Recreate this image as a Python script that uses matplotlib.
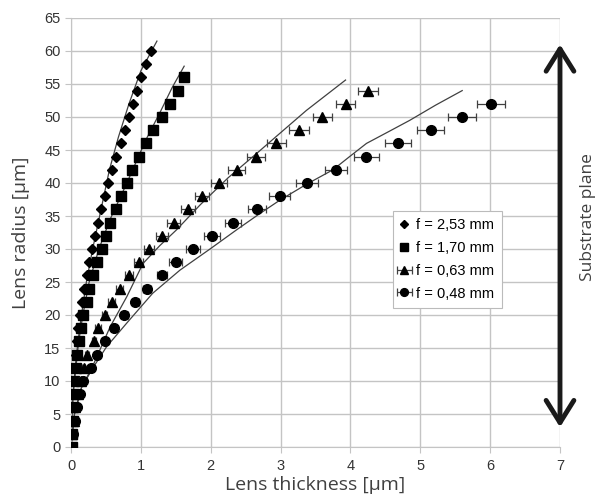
import numpy as np
import matplotlib.pyplot as plt

# measured points (radius every 2 um)
y_dia = list(range(0, 62, 2))
x_dia = [0.0, 0.01, 0.01, 0.02, 0.03, 0.04, 0.05, 0.07, 0.09, 0.10, 0.13, 0.16, 0.19, 0.23, 0.26,
         0.30, 0.34, 0.39, 0.43, 0.48, 0.53, 0.58, 0.64, 0.72, 0.77, 0.83, 0.89, 0.94, 1.00, 1.07, 1.14]

y_sq = list(range(0, 58, 2))
x_sq = [0.01, 0.02, 0.03, 0.03, 0.04, 0.05, 0.07, 0.09, 0.11, 0.14, 0.17, 0.23, 0.26, 0.31, 0.37,
        0.44, 0.50, 0.56, 0.64, 0.72, 0.80, 0.88, 0.97, 1.07, 1.18, 1.30, 1.42, 1.53, 1.62]

y_tri = list(range(2, 56, 2))
x_tri = [0.02, 0.04, 0.06, 0.10, 0.14, 0.18, 0.23, 0.33, 0.39, 0.48, 0.58, 0.70, 0.83, 0.97,
         1.12, 1.30, 1.47, 1.67, 1.88, 2.12, 2.37, 2.65, 2.94, 3.26, 3.60, 3.93, 4.25]
e_tri = [0.01, 0.01, 0.01, 0.02, 0.02, 0.02, 0.03, 0.03, 0.04, 0.04, 0.05, 0.05, 0.06, 0.065,
         0.07, 0.085, 0.09, 0.10, 0.10, 0.11, 0.12, 0.13, 0.14, 0.14, 0.14, 0.14, 0.14]

y_cir = list(range(2, 54, 2))
x_cir = [0.03, 0.06, 0.09, 0.13, 0.17, 0.28, 0.37, 0.49, 0.61, 0.76, 0.92, 1.09, 1.30, 1.50,
         1.75, 2.02, 2.32, 2.66, 2.99, 3.38, 3.79, 4.23, 4.68, 5.15, 5.60, 6.01]
e_cir = [0.01, 0.01, 0.01, 0.02, 0.02, 0.03, 0.03, 0.04, 0.04, 0.05, 0.05, 0.06, 0.07, 0.09,
         0.10, 0.11, 0.12, 0.13, 0.15, 0.16, 0.16, 0.18, 0.18, 0.19, 0.20, 0.20]

# fitted curves
fx_dia = [0, 0.01, 0.03, 0.06, 0.10, 0.15, 0.22, 0.31, 0.43, 0.55, 0.68, 0.83, 1.00, 1.23]
fy_dia = [0, 4, 8, 12, 16, 20, 25, 30, 36, 42, 47, 52, 57, 61.5]
fx_sq = [0, 0.01, 0.03, 0.07, 0.11, 0.17, 0.26, 0.40, 0.56, 0.80, 1.07, 1.27, 1.45, 1.62]
fy_sq = [0, 4, 8, 12, 16, 20, 25, 30, 34.5, 40, 46.5, 50.6, 54.5, 57.7]
fx_tri = [0, 0.05, 0.15, 0.30, 0.56, 0.80, 1.03, 1.27, 1.51, 1.85, 2.25, 2.66, 3.02, 3.37, 3.65, 3.93]
fy_tri = [0, 5, 9, 12, 18.2, 22.8, 27.8, 30.5, 32.9, 36.7, 40.8, 44.5, 47.8, 51, 53.3, 55.6]
fx_cir = [0, 0.05, 0.15, 0.32, 0.51, 0.80, 1.17, 1.56, 1.99, 2.37, 2.68, 2.99, 3.37, 3.75,
          4.0, 4.23, 4.55, 4.85, 5.22, 5.60]
fy_cir = [0, 5, 9, 12.1, 15.2, 18.8, 23.3, 26.8, 30.0, 32.9, 35.2, 37.4, 39.8, 42, 44.1,
          46, 47.8, 49.5, 51.8, 54]

labels = ["f = 2,53 mm", "f = 1,70 mm", "f = 0,63 mm", "f = 0,48 mm"]

fig = plt.figure(figsize=(6.09, 4.99), dpi=100)
ax = fig.add_axes([71/609, 52/499, 489/609, 429/499])

lc = '#404040'
for fx, fy in [(fx_dia, fy_dia), (fx_sq, fy_sq), (fx_tri, fy_tri), (fx_cir, fy_cir)]:
    ax.plot(fx, fy, color=lc, lw=0.9, zorder=2)

ax.plot(x_dia, y_dia, 'D', color='black', ms=5, ls='none', label=labels[0], zorder=3)
ax.plot(x_sq, y_sq, 's', color='black', ms=7, ls='none', label=labels[1], zorder=3)
ax.errorbar(x_tri, y_tri, xerr=e_tri, fmt='^', color='black', ms=7, ecolor=lc,
            elinewidth=0.9, capsize=3, capthick=0.9, label=labels[2], zorder=3)
ax.errorbar(x_cir, y_cir, xerr=e_cir, fmt='o', color='black', ms=7, ecolor=lc,
            elinewidth=0.9, capsize=3, capthick=0.9, label=labels[3], zorder=3)

ax.set_xlim(0, 7)
ax.set_ylim(0, 65)
ax.set_xticks(range(0, 8))
ax.set_yticks(range(0, 70, 5))
ax.grid(True, color='#c4c4c4', lw=1)
ax.set_axisbelow(True)
for s in ['top', 'right']:
    ax.spines[s].set_visible(False)
for s in ['left', 'bottom']:
    ax.spines[s].set_color('#c4c4c4')
ax.tick_params(colors='#c4c4c4', labelcolor='#333333', labelsize=10.5, length=4)
for t in ax.get_xticklabels() + ax.get_yticklabels():
    t.set_family('Liberation Sans')
ax.tick_params(axis='x', pad=5)

ax.set_xlabel("Lens thickness [µm]", family='Open Sans', fontsize=14, color='#404040', labelpad=2)
ax.set_ylabel("Lens radius [µm]", family='Open Sans', fontsize=14, color='#404040', labelpad=10)

leg = ax.legend(loc='upper left', bbox_to_anchor=(0.658, 0.55), prop={'family': 'Liberation Sans', 'size': 10.5},
                frameon=True, fancybox=False, edgecolor='#bbbbbb', framealpha=1, handlelength=0.6,
                handletextpad=0.5, borderpad=0.5, labelspacing=0.6, markerscale=0.8, borderaxespad=0)
leg.get_frame().set_linewidth(0.8)

ax.annotate('', xy=(7, 61), xytext=(7, 3), xycoords='data', annotation_clip=False,
            arrowprops=dict(arrowstyle='<->,head_length=0.8,head_width=0.5', lw=3.5,
                            color='#1a1a1a', mutation_scale=20, shrinkA=0, shrinkB=0))
ax.text(1.057, 0.536, "Substrate plane", transform=ax.transAxes, rotation=90,
        ha='center', va='center', family='Open Sans', fontsize=12.5, color='#404040')

plt.savefig("out.png")
plt.close()
